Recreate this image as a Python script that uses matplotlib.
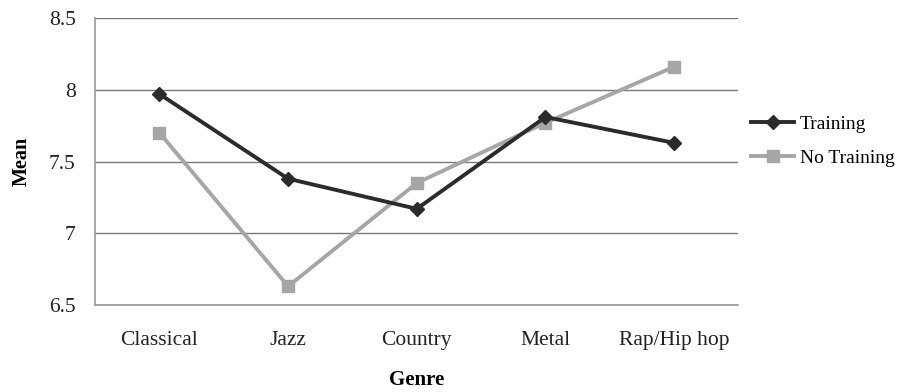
import matplotlib
matplotlib.use("Agg")
import matplotlib.pyplot as plt
import numpy as np

plt.rcParams['font.family'] = ['Liberation Serif', 'DejaVu Serif']

genres = ["Classical", "Jazz", "Country", "Metal", "Rap/Hip hop"]
training = [7.97, 7.38, 7.17, 7.81, 7.63]
no_training = [7.70, 6.63, 7.35, 7.77, 8.16]
yticks = [6.5, 7, 7.5, 8, 8.5]
ytick_labels = ["6.5", "7", "7.5", "8", "8.5"]

fig = plt.figure(figsize=(9.06, 3.92), dpi=100)
ax = fig.add_axes([0.105, 0.222, 0.71, 0.732])

x = np.arange(len(genres))
ax.plot(x, training, color="#2b2b2b", lw=2.8, marker="D", ms=7, label="Training", zorder=3)
ax.plot(x, no_training, color="#a6a6a6", lw=2.8, marker="s", ms=9, label="No Training", zorder=2)

ax.set_xlim(-0.5, len(genres) - 0.5)
ax.set_ylim(6.5, 8.5)
ax.set_yticks(yticks)
ax.set_yticklabels(ytick_labels)
ax.set_xticks(x)
ax.set_xticklabels(genres)
ax.tick_params(length=0, labelsize=15.5, colors="#222222")
ax.tick_params(axis="y", pad=14)
ax.tick_params(axis="x", pad=19)

ax.yaxis.grid(True, color="#777777", lw=1)
ax.set_axisbelow(True)
for s in ["top", "right"]:
    ax.spines[s].set_visible(False)
for s in ["left", "bottom"]:
    ax.spines[s].set_color("#999999")
    ax.spines[s].set_linewidth(1.2)

ax.set_ylabel("Mean", fontsize=14.5, fontweight="bold", labelpad=12)
ax.set_xlabel("Genre", fontsize=15, fontweight="bold", labelpad=14)

ax.legend(loc="center left", bbox_to_anchor=(0.993, 0.57), frameon=False,
          fontsize=14, handlelength=2.2, handletextpad=0.3, labelspacing=0.85)

fig.savefig("out.png", dpi=100)
